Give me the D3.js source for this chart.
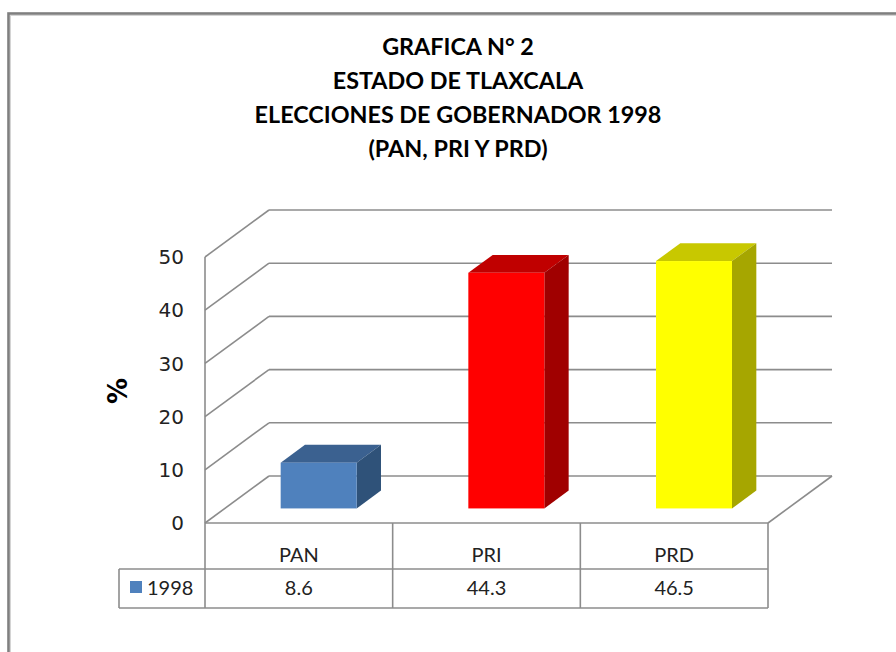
<!DOCTYPE html>
<html>
<head>
<meta charset="utf-8">
<script src="https://cdn.jsdelivr.net/npm/d3@7"></script>
<style>
  body { margin: 0; background: #fff; }
  svg { display: block; }
</style>
</head>
<body>
<svg id="chart" width="896" height="652"></svg>
<script>
// data
var categories = ["PAN", "PRI", "PRD"];
var seriesName = "1998";
var values1998 = [8.6, 44.3, 46.5];
var yTicks = [0, 10, 20, 30, 40, 50];
var titleLines = ["GRAFICA N° 2", "ESTADO DE TLAXCALA", "ELECCIONES DE GOBERNADOR 1998", "(PAN, PRI Y PRD)"];
var frontColors = ["#4f81bd", "#ff0000", "#ffff00"];
var topColors = ["#3b6190", "#c00000", "#c8c800"];
var sideColors = ["#2f5279", "#a00000", "#a6a600"];

var svg = d3.select("#chart");

// frame
svg.append("rect").attr("x", 8.5).attr("y", 13.5).attr("width", 1000).attr("height", 1000)
    .attr("fill", "#fff").attr("stroke", "#7f7f7f").attr("stroke-width", 2.6);
svg.append("rect").attr("x", 10.5).attr("y", 15.5).attr("width", 1000).attr("height", 1000)
    .attr("fill", "none").attr("stroke", "#d4d4d4").attr("stroke-width", 1);

// title
var title = svg.append("g").attr("class", "title");
title.selectAll("text").data(titleLines).enter().append("text")
    .attr("x", 0)
    .attr("y", function(d, i) { return 55 + i * 34; })
    .attr("text-anchor", "middle")
    .style("font-family", "Lato, 'Open Sans', sans-serif")
    .style("font-weight", "bold")
    .style("font-size", "22px")
    .attr("fill", "#000")
    .text(function(d) { return d; });
var widest = title.selectAll("text").nodes()[2].getComputedTextLength();
var sx = 407 / widest;
title.attr("transform", "translate(458,0) scale(" + sx + ",1)");

// geometry
var left = 205, right = 768;
var depthX = 64, depthY = -47;
var x = d3.scaleBand().domain(categories).range([left, right]);
var y = d3.scaleLinear().domain([0, 50]).range([523, 257]);
var gridColor = "#8c8c8c";

var grid = svg.append("g").attr("fill", "none").attr("stroke", gridColor).attr("stroke-width", 1.6);

// back wall lines + side diagonals
yTicks.forEach(function(t) {
    grid.append("line")
        .attr("x1", left + depthX).attr("y1", y(t) + depthY)
        .attr("x2", right + depthX).attr("y2", y(t) + depthY);
    grid.append("line")
        .attr("x1", left).attr("y1", y(t))
        .attr("x2", left + depthX).attr("y2", y(t) + depthY);
});
// front left axis
grid.append("line").attr("x1", left).attr("y1", y(50)).attr("x2", left).attr("y2", 608);
// floor right diagonal
grid.append("line").attr("x1", right).attr("y1", y(0))
    .attr("x2", right + depthX).attr("y2", y(0) + depthY);

// y labels
svg.append("g").selectAll("text").data(yTicks).enter().append("text")
    .attr("x", 184)
    .attr("y", function(d) { return y(d); })
    .attr("dy", "0.36em")
    .attr("text-anchor", "end")
    .style("font-family", "'DejaVu Sans', Verdana, sans-serif")
    .style("font-size", "20px")
    .attr("fill", "#222")
    .text(function(d) { return d; });

// axis title
svg.append("text")
    .attr("transform", "translate(127,391) rotate(-90)")
    .attr("text-anchor", "middle")
    .style("font-family", "'DejaVu Sans', sans-serif")
    .style("font-weight", "bold")
    .style("font-size", "26px")
    .attr("fill", "#000")
    .text("%");

// bars
var barFrac = 0.405;
var dFront = 0.31, dBack = 0.69;
var bars = svg.append("g").selectAll("g").data(values1998).enter().append("g");

function pts(arr) { return arr.map(function(p) { return p.join(","); }).join(" "); }

bars.each(function(d, i) {
    var g = d3.select(this);
    var bw = x.bandwidth() * barFrac;
    var x0 = x(categories[i]) + (x.bandwidth() - bw) / 2 + depthX * dFront;
    var x1 = x0 + bw;
    var yb = y(0) + depthY * dFront;
    var yt = y(d) + depthY * dFront;
    var ox = depthX * (dBack - dFront), oy = depthY * (dBack - dFront);
    g.append("polygon")
        .attr("points", pts([[x0, yt], [x1, yt], [x1 + ox, yt + oy], [x0 + ox, yt + oy]]))
        .attr("fill", topColors[i]);
    g.append("polygon")
        .attr("points", pts([[x1, yt], [x1 + ox, yt + oy], [x1 + ox, yb + oy], [x1, yb]]))
        .attr("fill", sideColors[i]);
    g.append("rect")
        .attr("x", x0).attr("y", yt)
        .attr("width", bw).attr("height", yb - yt)
        .attr("fill", frontColors[i]);
});

// data table
var rowTop = y(0), rowMid = 569, rowBot = 608, legLeft = 119;
var table = svg.append("g").attr("fill", "none").attr("stroke", gridColor).attr("stroke-width", 1.6);
table.append("line").attr("x1", left).attr("y1", rowTop).attr("x2", right).attr("y2", rowTop);
table.append("line").attr("x1", legLeft).attr("y1", rowMid).attr("x2", right).attr("y2", rowMid);
table.append("line").attr("x1", legLeft).attr("y1", rowBot).attr("x2", right).attr("y2", rowBot);
table.append("line").attr("x1", legLeft).attr("y1", rowMid).attr("x2", legLeft).attr("y2", rowBot);
categories.forEach(function(c) {
    var xe = x(c) + x.bandwidth();
    table.append("line").attr("x1", xe).attr("y1", rowTop).attr("x2", xe).attr("y2", rowBot);
});

var tfont = "Lato, 'Open Sans', sans-serif";
svg.append("g").selectAll("text").data(categories).enter().append("text")
    .attr("x", function(d) { return x(d) + x.bandwidth() / 2; })
    .attr("y", 562)
    .attr("text-anchor", "middle")
    .style("font-family", tfont).style("font-size", "20px")
    .attr("fill", "#222")
    .text(function(d) { return d; });

svg.append("g").selectAll("text").data(values1998).enter().append("text")
    .attr("x", function(d, i) { return x(categories[i]) + x.bandwidth() / 2; })
    .attr("y", 595)
    .attr("text-anchor", "middle")
    .style("font-family", tfont).style("font-size", "20px")
    .attr("fill", "#222")
    .text(function(d) { return d; });

svg.append("rect").attr("x", 130).attr("y", 581).attr("width", 12).attr("height", 12)
    .attr("fill", frontColors[0]);
svg.append("text").attr("x", 147).attr("y", 595)
    .style("font-family", tfont).style("font-size", "20px")
    .attr("fill", "#222")
    .text(seriesName);
</script>
</body>
</html>
